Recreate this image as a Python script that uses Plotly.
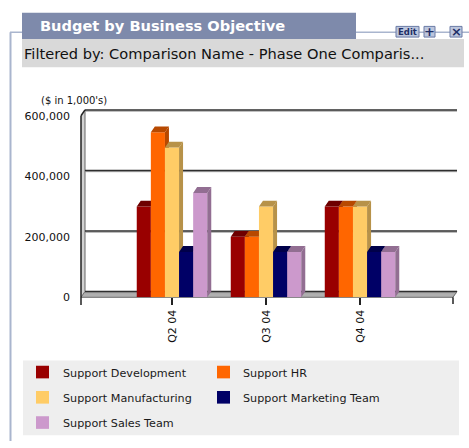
import plotly.graph_objects as go

# ---- data -------------------------------------------------------------
periods = ["Q2 04", "Q3 04", "Q4 04"]
series_names = [
    "Support Development",
    "Support HR",
    "Support Manufacturing",
    "Support Marketing Team",
    "Support Sales Team",
]
support_development = [300000, 200000, 300000]
support_hr = [545000, 200000, 300000]
support_manufacturing = [495000, 300000, 300000]
support_marketing = [150000, 150000, 150000]
support_sales = [345000, 150000, 150000]
series_values = [support_development, support_hr, support_manufacturing,
                 support_marketing, support_sales]
y_ticks = [0, 200000, 400000, 600000]

series_colors = ["#990000", "#FF6600", "#FFCC66", "#000066", "#CC99CC"]

# ---- page geometry ----------------------------------------------------
W, H = 469, 448
FONT = "DejaVu Sans"


def PX(x):
    return x / W


def PY(y):
    return 1 - y / H


# front plane of the plot (pixels)
PL, PR, PB, PT = 81, 453, 300, 113
X_RANGE = [-0.968, 2.989]
Y_RANGE = [0, 600000]
DEPTH_X, DEPTH_Y = 4, 6          # 3D depth offset in pixels
BAR_W = 0.15                     # bar width in category units

x_per_px = (X_RANGE[1] - X_RANGE[0]) / (PR - PL)
y_per_px = (Y_RANGE[1] - Y_RANGE[0]) / (PB - PT)
ddx = DEPTH_X * x_per_px
ddy = DEPTH_Y * y_per_px


def shade(hex_color, k):
    h = hex_color.lstrip("#")
    r, g, b = (int(h[i:i + 2], 16) for i in (0, 2, 4))
    return "#%02X%02X%02X" % (int(r * k), int(g * k), int(b * k))


fig = go.Figure()

# ---- bars: front faces as bars, top and side faces as polygons --------
n = len(series_names)
for i, (name, vals, col) in enumerate(zip(series_names, series_values, series_colors)):
    off = (i - n / 2) * BAR_W
    fig.add_trace(go.Bar(
        x=list(range(len(periods))), y=vals, name=name,
        width=BAR_W, offset=off,
        marker=dict(color=col, line=dict(width=0)),
        showlegend=False, zorder=i, hoverinfo="skip",
    ))
    tx, ty, sx, sy = [], [], [], []
    for c, v in enumerate(vals):
        x0 = c + off
        x1 = x0 + BAR_W
        tx += [x0, x1, x1 + ddx, x0 + ddx, x0, None]
        ty += [v, v, v + ddy, v + ddy, v, None]
        sx += [x1, x1 + ddx, x1 + ddx, x1, x1, None]
        sy += [0, ddy, v + ddy, v, 0, None]
    dark = shade(col, 0.72)
    for px_, py_ in ((tx, ty), (sx, sy)):
        fig.add_trace(go.Scatter(
            x=px_, y=py_, mode="lines", fill="toself", fillcolor=dark,
            line=dict(width=0, color=dark), showlegend=False,
            hoverinfo="skip", zorder=i,
        ))

# ---- walls, floor and back-wall gridlines (axis-domain coordinates) ---
def fy(v):
    return (v - Y_RANGE[0]) / (Y_RANGE[1] - Y_RANGE[0])


dfx = DEPTH_X / (PR - PL)
dfy = DEPTH_Y / (PB - PT)
tick_f = 7 / (PB - PT)
shapes = []
dom = dict(xref="x domain", yref="y domain", layer="below")

# left wall
shapes.append(dict(type="path", **dom,
                   path=f"M0,0 L0,1 L{dfx},{1 + dfy} L{dfx},{dfy} Z",
                   fillcolor="#D2D2D2", line=dict(width=0)))
shapes.append(dict(type="line", **dom, x0=dfx, x1=dfx, y0=dfy, y1=1 + dfy,
                   line=dict(color="#666666", width=1)))
# floor
shapes.append(dict(type="path", **dom,
                   path=f"M0,0 L1,0 L{1 + dfx},{dfy} L{dfx},{dfy} Z",
                   fillcolor="#B0B0B0", line=dict(color="#6A6A6A", width=1)))
# gridlines on the back wall, each with a soft grey shadow below
shadow = 1.3 / (PB - PT)
for v in y_ticks:
    yy = fy(v) + dfy
    shapes.append(dict(type="line", **dom, x0=dfx, x1=1 + dfx, y0=yy - shadow, y1=yy - shadow,
                       line=dict(color="#A0A0A0", width=1)))
    shapes.append(dict(type="line", **dom, x0=dfx, x1=1 + dfx, y0=yy, y1=yy,
                       line=dict(color="#2E2E2E", width=1.5)))
# front vertical axis line and top edge of the wall
shapes.append(dict(type="line", **dom, x0=0, x1=0, y0=-tick_f * 1.15, y1=1,
                   line=dict(color="#222222", width=1.5)))
shapes.append(dict(type="line", **dom, x0=0, x1=dfx, y0=1, y1=1 + dfy,
                   line=dict(color="#222222", width=1.5)))
# closing tick at the right end of the category axis
shapes.append(dict(type="line", **dom, x0=1, x1=1, y0=0, y1=-tick_f,
                   line=dict(color="#222222", width=1.5)))

# ---- portlet frame, title tab, filter bar, buttons --------------------
FRAME = "#A9B5CE"
paper = dict(xref="paper", yref="paper", layer="above")
shapes.append(dict(type="line", **paper, x0=PX(10.5), x1=PX(10.5), y0=PY(27), y1=PY(448),
                   line=dict(color=FRAME, width=2)))
shapes.append(dict(type="line", **paper, x0=PX(10), x1=PX(469), y0=PY(27), y1=PY(27),
                   line=dict(color=FRAME, width=1.5)))
shapes.append(dict(type="rect", **paper, x0=PX(22), x1=PX(356), y0=PY(7), y1=PY(34),
                   fillcolor="#7E8AAB", line=dict(width=0)))
shapes.append(dict(type="rect", **paper, x0=PX(22), x1=PX(464), y0=PY(34), y1=PY(63),
                   fillcolor="#D9D9D9", line=dict(width=0)))
for bx0, bx1 in ((396, 419), (424, 435), (450, 462)):
    shapes.append(dict(type="rect", **paper, x0=PX(bx0), x1=PX(bx1), y0=PY(21), y1=PY(32),
                       fillcolor="#BCC6DD", line=dict(color="#6B7BA6", width=1)))

# ---- legend box ------------------------------------------------------
shapes.append(dict(type="rect", **paper, x0=PX(23), x1=PX(459), y0=PY(365), y1=PY(442),
                   fillcolor="#EEEEEE", line=dict(width=0)))
legend_cols = [(36, 61), (217, 241)]
legend_rows = [377, 403, 429]
annotations = []
for i, (name, col) in enumerate(zip(series_names, series_colors)):
    sxp, txp = legend_cols[i % 2]
    ry = legend_rows[i // 2]
    shapes.append(dict(type="rect", **paper, x0=PX(sxp), x1=PX(sxp + 13),
                       y0=PY(ry - 6.5), y1=PY(ry + 6.5),
                       fillcolor=col, line=dict(width=0)))
    annotations.append(dict(xref="paper", yref="paper", x=PX(txp), y=PY(ry + 1),
                            xanchor="left", yanchor="middle", showarrow=False,
                            text=name, font=dict(family=FONT, size=11.2, color="#1A1A1A")))

# ---- texts -----------------------------------------------------------
annotations += [
    dict(xref="paper", yref="paper", x=PX(38), y=PY(20), xanchor="left", yanchor="middle",
         showarrow=False, text="Budget by Business Objective",
         font=dict(family=FONT, size=14.6, color="#FFFFFF", weight="bold")),
    dict(xref="paper", yref="paper", x=PX(22), y=PY(48.5), xanchor="left", yanchor="middle",
         showarrow=False, text="Filtered by: Comparison Name - Phase One Comparis...",
         font=dict(family=FONT, size=14.6, color="#111111")),
    dict(xref="paper", yref="paper", x=PX(407.5), y=PY(26.5), xanchor="center", yanchor="middle",
         showarrow=False, text="Edit",
         font=dict(family=FONT, size=8.5, color="#1E2E66", weight="bold")),
    dict(xref="paper", yref="paper", x=PX(429.5), y=PY(26.5), xanchor="center", yanchor="middle",
         showarrow=False, text="+",
         font=dict(family=FONT, size=13, color="#1E2E66", weight="bold")),
    dict(xref="paper", yref="paper", x=PX(456), y=PY(26.5), xanchor="center", yanchor="middle",
         showarrow=False, text="×",
         font=dict(family=FONT, size=13, color="#1E2E66", weight="bold")),
    dict(xref="paper", yref="paper", x=PX(39), y=PY(97), xanchor="left", yanchor="middle",
         showarrow=False, text="($ in 1,000's)",
         font=dict(family=FONT, size=10, color="#111111")),
]

fig.update_layout(
    width=W, height=H,
    margin=dict(l=0, r=0, t=0, b=0),
    paper_bgcolor="#FFFFFF", plot_bgcolor="rgba(0,0,0,0)",
    barmode="overlay",
    showlegend=False,
    shapes=shapes,
    annotations=annotations,
    font=dict(family=FONT, size=11, color="#111111"),
    xaxis=dict(
        domain=[PX(PL), PX(PR)], range=X_RANGE,
        tickvals=list(range(len(periods))), ticktext=periods,
        tickangle=-90, ticks="outside", ticklen=7, tickwidth=1.5, tickcolor="#222222",
        showgrid=False, zeroline=False,
        showline=True, linecolor="#555555", linewidth=1,
        tickfont=dict(family=FONT, size=11, color="#111111"),
        fixedrange=True,
    ),
    yaxis=dict(
        domain=[PY(PB), PY(PT)], range=Y_RANGE,
        tickvals=y_ticks, tickformat=",d",
        ticks="", showgrid=False, zeroline=False, showline=False,
        ticklabelstandoff=10,
        tickfont=dict(family=FONT, size=11, color="#111111"),
        fixedrange=True,
    ),
)

fig.write_html("out.html")
